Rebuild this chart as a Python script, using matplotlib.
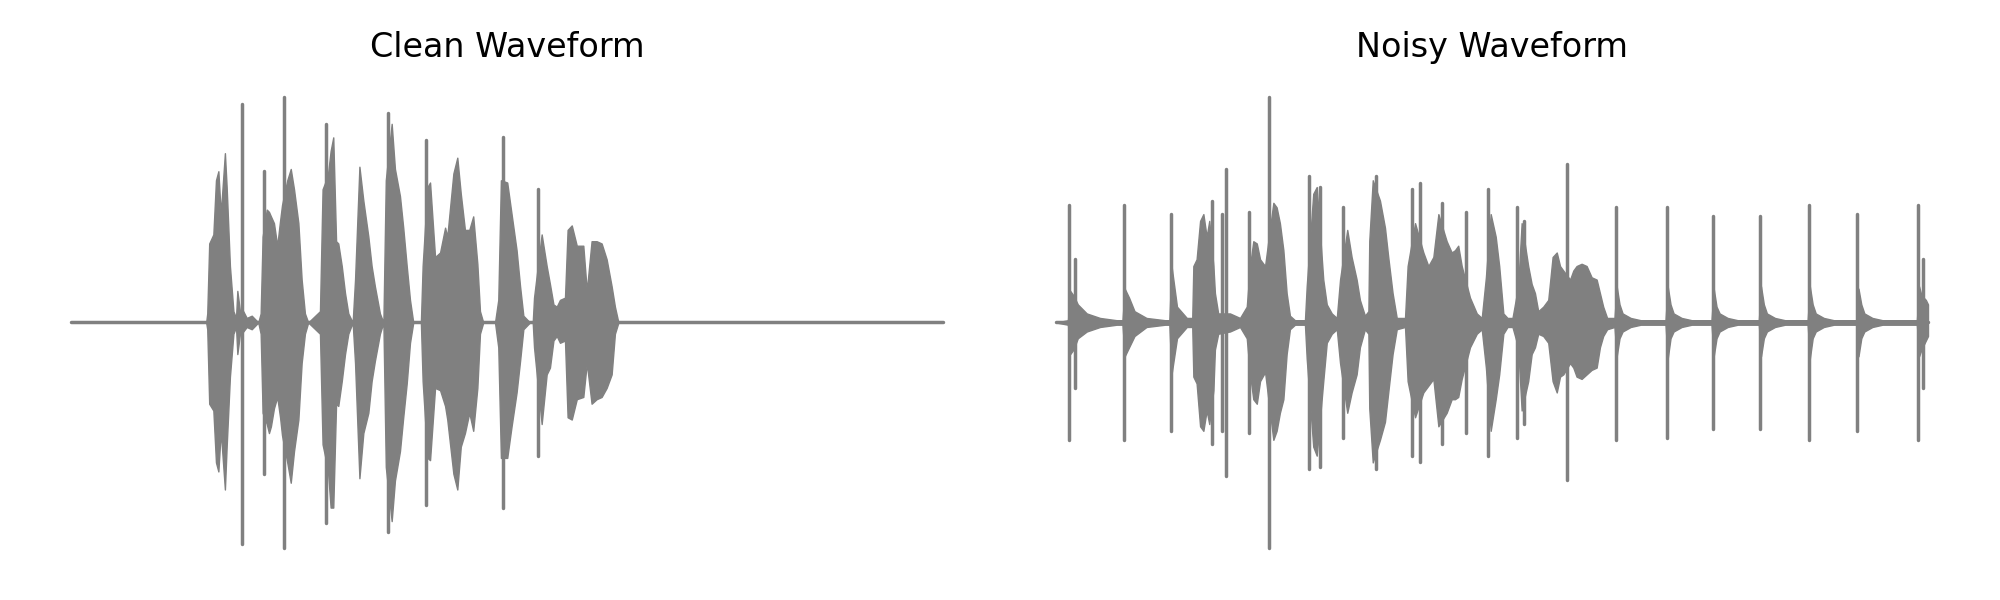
import matplotlib
matplotlib.use('Agg')
import matplotlib.pyplot as plt

# ── Data (time in ms, amplitude normalised to the loudest sample) ─────────
DURATION_MS = 4000
WAVE_COLOR = 'gray'

# clean waveform: upper / lower envelope, one line per speech burst
clean_t = [
    0, 620,
    625, 634, 653, 665, 676, 687, 706, 714, 729, 745, 757, 763, 775, 790, 806, 829, 859,
    870, 879, 898, 908, 917, 931, 946, 959, 968, 992, 1008, 1023, 1043, 1058, 1073, 1088,
    1142, 1154, 1178, 1191, 1203, 1216, 1226, 1242, 1257, 1272, 1292,
    1303, 1323, 1341, 1364, 1379, 1394, 1417, 1433,
    1444, 1471, 1486, 1509, 1524, 1540, 1555, 1570, 1605,
    1613, 1635, 1647, 1670, 1693, 1716, 1726, 1754, 1772, 1788, 1807, 1827, 1845, 1864, 1876, 1891, 1945,
    1960, 1972, 2001, 2021, 2044, 2060, 2075, 2105, 2118,
    2124, 2159, 2182, 2197, 2213, 2228, 2243, 2266,
    2278, 2297, 2320, 2350, 2366, 2388, 2411, 2434, 2457, 2480, 2495, 2511, 4000,
]
clean_top = [
    0, 0,
    .04, .35, .39, .63, .67, .48, .75, .60, .25, .05, .02, .14, .05, .05, .02, .03, 0,
    .04, .38, .50, .49, .47, .44, .34, .45, .52, .63, .68, .59, .44, .19, .04, 0,
    .05, .59, .65, .76, .82, .36, .35, .25, .13, .04, 0,
    .19, .69, .54, .38, .25, .16, .04, 0,
    .63, .88, .68, .56, .42, .25, .10, 0, 0,
    .25, .60, .62, .29, .31, .42, .38, .66, .73, .57, .41, .41, .47, .26, .05, 0, 0,
    .10, .63, .62, .48, .32, .16, .03, 0, 0,
    .11, .39, .25, .17, .08, .07, .10, .11,
    .41, .43, .34, .34, .14, .36, .36, .35, .28, .16, .07, 0, 0,
]
clean_bot = [
    0, 0,
    -.03, -.36, -.39, -.62, -.66, -.48, -.74, -.55, -.24, -.05, -.02, -.14, -.05, -.04, -.02, -.03, 0,
    -.05, -.40, -.45, -.49, -.46, -.38, -.33, -.42, -.50, -.62, -.71, -.57, -.43, -.18, -.05, 0,
    -.05, -.54, -.65, -.82, -.82, -.36, -.37, -.26, -.14, -.05, 0,
    -.18, -.69, -.49, -.40, -.26, -.17, -.05, 0,
    -.64, -.88, -.70, -.57, -.42, -.27, -.09, 0, 0,
    -.26, -.60, -.61, -.29, -.30, -.37, -.43, -.67, -.74, -.55, -.49, -.40, -.48, -.29, -.05, 0, 0,
    -.11, -.60, -.60, -.46, -.31, -.17, -.03, 0, 0,
    -.11, -.45, -.23, -.20, -.08, -.06, -.09, -.08,
    -.42, -.43, -.34, -.33, -.18, -.36, -.34, -.33, -.29, -.23, -.05, 0, 0,
]
# narrow peaks inside the clean bursts
clean_peak_t   = [783, 887, 977, 1170, 1456, 1628, 1983, 2144]
clean_peak_top = [.97, .67, 1.0, .88, .93, .81, .82, .59]
clean_peak_bot = [-.98, -.67, -1.0, -.89, -.93, -.81, -.82, -.59]

# noisy waveform: same speech plus periodic clicks
noisy_t = [
    0, 55, 65, 80, 100, 141, 202, 278, 305, 315, 335, 360, 415, 500, 520, 530, 555, 600, 625,
    630, 645, 661, 676, 691, 703, 722, 729, 744, 798, 844, 875, 890, 905, 921, 936, 959,
    997, 1012, 1027, 1043, 1058, 1073, 1096, 1142,
    1150, 1180, 1196, 1226, 1242, 1265, 1288,
    1303, 1336, 1356, 1379, 1394, 1417, 1433,
    1437, 1453, 1486, 1509, 1524, 1544, 1563, 1601,
    1613, 1647, 1685, 1708, 1731, 1754, 1792, 1815, 1830, 1845, 1861, 1899, 1930, 1953,
    1972, 1994, 2017, 2033, 2052, 2071, 2094,
    2120, 2136, 2166, 2182, 2197, 2212, 2235, 2258,
    2278, 2297, 2312, 2327, 2358, 2373, 2388, 2411, 2434, 2457, 2480, 2495, 2510, 2528, 2562,
    2572, 2585, 2599, 2636, 2682, 2796,
    2806, 2819, 2833, 2870, 2916, 3007,
    3017, 3030, 3044, 3081, 3127, 3224,
    3234, 3247, 3261, 3298, 3344, 3448,
    3458, 3471, 3485, 3522, 3568, 3671,
    3681, 3694, 3708, 3745, 3791, 3949,
    3959, 3970, 3990, 4000,
]
noisy_top = [
    0, .01, .14, .12, .08, .04, .02, .01, .01, .15, .11, .05, .02, .01, .01, .25, .07, .02, .02,
    .25, .28, .45, .48, .38, .45, .25, .13, .04, .04, .02, .07, .25, .36, .35, .28, .25,
    .53, .51, .44, .32, .13, .03, .01, .01,
    .16, .57, .60, .19, .08, .04, .02,
    .19, .41, .29, .19, .10, .03, .05,
    .36, .63, .54, .42, .29, .13, .02, .02,
    .25, .44, .31, .25, .29, .48, .36, .31, .32, .34, .25, .11, .04, .02,
    .20, .48, .38, .25, .04, .02, .02,
    .16, .44, .25, .17, .13, .05, .07, .10,
    .29, .31, .25, .23, .19, .23, .25, .26, .25, .20, .19, .13, .07, .02, .02,
    .16, .08, .04, .02, .01, .01,
    .16, .08, .04, .02, .01, .01,
    .15, .07, .04, .02, .01, .01,
    .16, .08, .04, .02, .01, .01,
    .16, .08, .04, .02, .01, .01,
    .15, .08, .04, .02, .01, .01,
    .16, .12, .10, .08,
]
noisy_bot = [
    0, -.01, -.14, -.12, -.07, -.04, -.02, -.01, -.01, -.15, -.11, -.06, -.02, -.01, -.01, -.23, -.07, -.02, -.02,
    -.24, -.27, -.46, -.48, -.39, -.45, -.30, -.12, -.05, -.04, -.02, -.07, -.23, -.34, -.36, -.26, -.22,
    -.52, -.48, -.40, -.34, -.14, -.03, -.01, -.01,
    -.16, -.55, -.59, -.26, -.09, -.05, -.03,
    -.18, -.40, -.31, -.23, -.11, -.03, -.05,
    -.38, -.62, -.52, -.44, -.31, -.14, -.03, -.02,
    -.26, -.42, -.31, -.28, -.25, -.46, -.40, -.34, -.34, -.33, -.25, -.11, -.05, -.03,
    -.20, -.48, -.34, -.23, -.05, -.02, -.02,
    -.11, -.39, -.26, -.14, -.11, -.05, -.06, -.09,
    -.26, -.31, -.24, -.23, -.18, -.20, -.24, -.25, -.23, -.21, -.20, -.11, -.06, -.03, -.02,
    -.15, -.07, -.04, -.02, -.01, -.01,
    -.16, -.07, -.04, -.02, -.01, -.01,
    -.15, -.07, -.04, -.02, -.01, -.01,
    -.15, -.07, -.04, -.02, -.01, -.01,
    -.16, -.07, -.04, -.02, -.01, -.01,
    -.15, -.07, -.04, -.02, -.01, -.01,
    -.15, -.12, -.08, -.06,
]
# clicks and sharp peaks in the noisy signal
noisy_peak_t   = [61, 87, 312, 526, 714, 760, 780, 887, 977, 1162, 1211, 1318, 1468, 1632, 1670,
                  1772, 1881, 1983, 2113, 2147, 2345, 2567, 2801, 3012, 3229, 3453, 3676, 3954, 3978]
noisy_peak_top = [.52, .28, .52, .48, .54, .48, .68, .49, 1.0, .65, .60, .51, .65, .59, .62,
                  .53, .49, .59, .51, .45, .70, .51, .51, .47, .47, .52, .48, .52, .28]
noisy_peak_bot = [-.52, -.29, -.52, -.48, -.54, -.48, -.68, -.49, -1.0, -.65, -.64, -.51, -.65, -.59, -.62,
                  -.54, -.49, -.59, -.51, -.45, -.70, -.52, -.51, -.47, -.47, -.52, -.48, -.52, -.29]


def draw_wave(ax, t, top, bot, peak_t, peak_top, peak_bot, title):
    assert len(t) == len(top) == len(bot), (len(t), len(top), len(bot))
    ax.plot([0, DURATION_MS], [0, 0], color=WAVE_COLOR, lw=2.5, solid_capstyle='round')
    ax.fill_between(t, bot, top, facecolor=WAVE_COLOR, edgecolor=WAVE_COLOR,
                    lw=1.0, joinstyle='round')
    ax.vlines(peak_t, peak_bot, peak_top, color=WAVE_COLOR, lw=2.5, capstyle='round')
    ax.set_xlim(-0.05 * DURATION_MS, 1.05 * DURATION_MS)
    ax.set_ylim(-1.1, 1.1)
    ax.set_title(title, fontsize=24, pad=12)
    ax.axis('off')


fig = plt.figure(figsize=(20, 6), dpi=100)
ax_clean = fig.add_axes([0.0137, 0.0487, 0.4796, 0.8277])
ax_noisy = fig.add_axes([0.5062, 0.0487, 0.4796, 0.8277])

draw_wave(ax_clean, clean_t, clean_top, clean_bot,
          clean_peak_t, clean_peak_top, clean_peak_bot, 'Clean Waveform')
draw_wave(ax_noisy, noisy_t, noisy_top, noisy_bot,
          noisy_peak_t, noisy_peak_top, noisy_peak_bot, 'Noisy Waveform')

fig.savefig('out.png', dpi=100, facecolor='white')
